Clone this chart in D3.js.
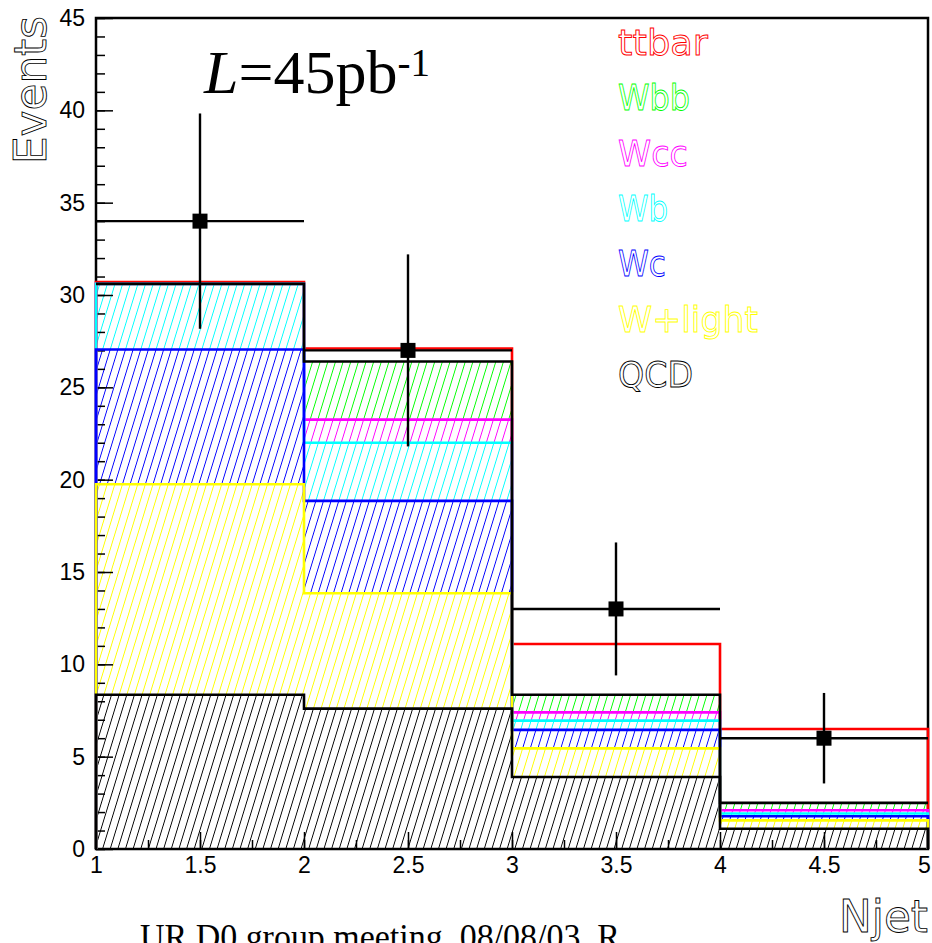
<!DOCTYPE html>
<html>
<head>
<meta charset="utf-8">
<script src="https://cdn.jsdelivr.net/npm/d3@7"></script>
<style>
  html, body { margin: 0; padding: 0; background: #fff; }
  svg { display: block; }
</style>
</head>
<body>
<svg id="chart" width="932" height="943"></svg>
<script>
// ---------------- data ----------------
const binLow  = [1, 2, 3, 4];
const binHigh = [2, 3, 4, 5];
const seriesNames = ["QCD", "W+light", "Wc", "Wb", "Wcc", "Wbb", "ttbar"];
const qcd    = [8.35, 7.6, 3.9, 1.1];
const wlight = [11.4, 6.25, 1.55, 0.45];
const wc     = [7.3, 5.0, 1.0, 0.22];
const wb     = [3.55, 3.15, 0.5, 0.15];
const wcc    = [0, 1.25, 0.45, 0.18];
const wbb    = [0, 3.15, 0.95, 0.4];
const ttbar  = [0.1, 0.7, 2.75, 4.0];
const dataVal = [34, 27, 13, 6];
const dataErr = [5.83, 5.2, 3.6, 2.45];
const legendOrder = ["ttbar", "Wbb", "Wcc", "Wb", "Wc", "W+light", "QCD"];
const yMajorTicks = [0, 5, 10, 15, 20, 25, 30, 35, 40, 45];
const xMajorTicks = [1, 1.5, 2, 2.5, 3, 3.5, 4, 4.5, 5];

(function () {
// ---------------- styles ----------------
const colors = {
  "QCD": "#000000", "W+light": "#ffff00", "Wc": "#0000ff", "Wb": "#00ffff",
  "Wcc": "#ff00ff", "Wbb": "#00ff00", "ttbar": "#ff0000"
};
const hatched = { "QCD": true, "W+light": true, "Wc": true, "Wb": true, "Wcc": true, "Wbb": true, "ttbar": false };

const seriesArrays = [qcd, wlight, wc, wb, wcc, wbb, ttbar];
const table = binLow.map((lo, i) => {
  const row = { lo: lo, hi: binHigh[i] };
  seriesNames.forEach((n, k) => row[n] = seriesArrays[k][i]);
  return row;
});
const stacked = d3.stack().keys(seriesNames)(table);

const svg = d3.select("#chart");
const pL = 96, pR = 928, pT = 18, pB = 849;

const x = d3.scaleLinear().domain([1, 5]).range([pL, pR]);
const y = d3.scaleLinear().domain([0, 45]).range([pB, pT]);

// hatch patterns
const defs = svg.append("defs");
seriesNames.forEach(n => {
  if (!hatched[n]) return;
  const p = defs.append("pattern")
    .attr("id", "hatch-" + n.replace(/\W/g, ""))
    .attr("patternUnits", "userSpaceOnUse")
    .attr("width", 7.3).attr("height", 20)
    .attr("patternTransform", "rotate(17)");
  p.append("line").attr("x1", 3.6).attr("y1", -1).attr("x2", 3.6).attr("y2", 21)
    .attr("stroke", colors[n]).attr("stroke-width", 1)
    .attr("shape-rendering", "crispEdges");
});

// hatched bands
const bands = svg.append("g");
stacked.forEach(s => {
  if (!hatched[s.key]) return;
  bands.selectAll(null).data(s).enter().append("rect")
    .attr("x", d => x(d.data.lo))
    .attr("width", d => x(d.data.hi) - x(d.data.lo))
    .attr("y", d => y(d[1]))
    .attr("height", d => Math.max(0, y(d[0]) - y(d[1])))
    .attr("fill", "url(#hatch-" + s.key.replace(/\W/g, "") + ")");
});

// frame
svg.append("rect").attr("x", pL).attr("y", pT)
  .attr("width", pR - pL).attr("height", pB - pT)
  .attr("fill", "none").attr("stroke", "#000").attr("stroke-width", 2.5);

// axes
const yMajor = d3.axisLeft(y).tickValues(yMajorTicks).tickSize(-17).tickPadding(11);
const yMinor = d3.axisLeft(y).tickValues(d3.range(0, 46, 1)).tickSize(-9).tickFormat("");
const xMajor = d3.axisBottom(x).tickValues(xMajorTicks).tickSize(-17).tickPadding(8).tickFormat(d3.format("~g"));
const xMinor = d3.axisBottom(x).tickValues(d3.range(1, 5.01, 0.25)).tickSize(-9).tickFormat("");

function styleAxis(g) {
  g.select(".domain").remove();
  g.selectAll(".tick line").attr("stroke", "#000").attr("stroke-width", 1.5);
  g.selectAll("text").attr("font-family", "Liberation Sans, Arial, sans-serif")
    .attr("font-size", 23).attr("fill", "#000");
}
svg.append("g").attr("transform", `translate(${pL},0)`).call(yMinor).call(styleAxis);
svg.append("g").attr("transform", `translate(${pL},0)`).call(yMajor).call(styleAxis);
svg.append("g").attr("transform", `translate(0,${pB})`).call(xMinor).call(styleAxis);
const xg = svg.append("g").attr("transform", `translate(0,${pB})`).call(xMajor).call(styleAxis);
// keep the last label inside the page
xg.selectAll(".tick text").filter(d => d === 5).attr("dx", -4);

// step outlines for cumulative levels (largest first)
function stepPath(vals, closeEnds) {
  let pts = [];
  if (closeEnds) pts.push([x(binLow[0]), y(0)]);
  vals.forEach((v, i) => {
    pts.push([x(binLow[i]), y(v)]);
    pts.push([x(binHigh[i]), y(v)]);
  });
  if (closeEnds) pts.push([x(binHigh[binHigh.length - 1]), y(0)]);
  return d3.line()(pts);
}
const outlines = svg.append("g").attr("fill", "none");
const outlineOrder = ["ttbar", "Wcc", "Wb", "Wc", "W+light", "QCD"];
outlineOrder.forEach(n => {
  const s = stacked.find(t => t.key === n);
  outlines.append("path")
    .attr("d", stepPath(s.map(d => d[1]), true))
    .attr("stroke", colors[n]).attr("stroke-width", 2.6);
});
// total W + QCD outline (black)
const wTotal = stacked.find(t => t.key === "Wbb").map(d => d[1]);
outlines.append("path")
  .attr("d", stepPath(wTotal, false))
  .attr("stroke", "#000").attr("stroke-width", 2.6);

// data points
const dg = svg.append("g").attr("stroke", "#000").attr("stroke-width", 2.4);
binLow.forEach((lo, i) => {
  const xc = x((lo + binHigh[i]) / 2);
  dg.append("line").attr("x1", x(lo)).attr("x2", x(binHigh[i]))
    .attr("y1", y(dataVal[i])).attr("y2", y(dataVal[i]));
  dg.append("line").attr("x1", xc).attr("x2", xc)
    .attr("y1", y(dataVal[i] + dataErr[i])).attr("y2", y(dataVal[i] - dataErr[i]));
  dg.append("rect").attr("x", xc - 7.5).attr("y", y(dataVal[i]) - 7.5)
    .attr("width", 15).attr("height", 15).attr("fill", "#000").attr("stroke", "none");
});

// legend (outlined text)
const legendWidths = { "ttbar": 90, "Wbb": 72, "Wcc": 70, "Wb": 50, "Wc": 48, "W+light": 140, "QCD": 75 };
const lg = svg.append("g");
legendOrder.forEach((n, i) => {
  lg.append("text")
    .attr("x", 618).attr("y", 55 + i * 55.3)
    .attr("font-family", "DejaVu Sans, sans-serif").attr("font-size", 36)
    .attr("textLength", legendWidths[n]).attr("lengthAdjust", "spacingAndGlyphs")
    .attr("fill", "#fff").attr("stroke", colors[n]).attr("stroke-width", 0.9)
    .text(n);
});

// luminosity label
const lum = svg.append("text").attr("x", 204).attr("y", 93)
  .attr("font-family", "Liberation Serif, Times New Roman, serif").attr("font-size", 62).attr("fill", "#000");
lum.append("tspan").attr("font-style", "italic").text("L");
lum.append("tspan").text("=45pb");
lum.append("tspan").attr("font-size", 39).attr("dy", -17).text("-1");

// axis titles
svg.append("text")
  .attr("transform", "translate(46,164) rotate(-90)")
  .attr("font-family", "DejaVu Sans, sans-serif").attr("font-size", 45)
  .attr("textLength", 148).attr("lengthAdjust", "spacingAndGlyphs")
  .attr("fill", "#fff").attr("stroke", "#000").attr("stroke-width", 0.9)
  .text("Events");
svg.append("text")
  .attr("x", 839).attr("y", 932)
  .attr("font-family", "DejaVu Sans, sans-serif").attr("font-size", 44)
  .attr("textLength", 89).attr("lengthAdjust", "spacingAndGlyphs")
  .attr("fill", "#fff").attr("stroke", "#000").attr("stroke-width", 0.9)
  .text("Njet");

// footer (partly below the page edge, as in the reference)
svg.append("text")
  .attr("x", 140).attr("y", 949)
  .attr("font-family", "Liberation Serif, Times New Roman, serif").attr("font-size", 36)
  .attr("textLength", 480).attr("lengthAdjust", "spacingAndGlyphs")
  .attr("fill", "#000")
  .text("UR D0 group meeting, 08/08/03, R");
})();
</script>
</body>
</html>
